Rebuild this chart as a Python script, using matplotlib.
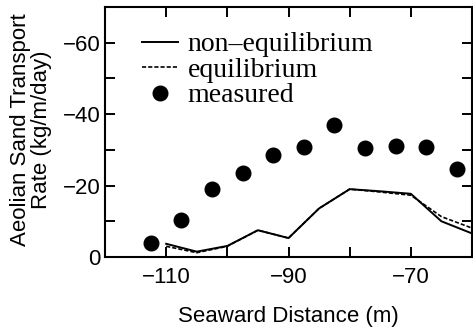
import matplotlib
matplotlib.use("Agg")
import matplotlib.pyplot as plt

# data (transport rate is negative = seaward)
dist_lines = [-110, -105, -100, -95, -90, -85, -80, -75, -70, -65, -60]
non_equilibrium = [-3.7, -1.5, -3.1, -7.5, -5.3, -13.6, -19.0, -18.4, -17.7, -10.0, -6.6]
equilibrium = [-3.0, -1.2, -3.0, -7.5, -5.3, -13.6, -19.0, -18.2, -17.3, -11.3, -8.1]

dist_measured = [-112.5, -107.5, -102.5, -97.5, -92.5, -87.5, -82.5, -77.5, -72.5, -67.5, -62.5]
measured = [-4.0, -10.5, -19.0, -23.6, -28.5, -30.7, -37.1, -30.6, -31.1, -30.7, -24.6]

xticks_major = [-110, -90, -70]
yticks_major = [-60, -40, -20, 0]

plt.rcParams['font.family'] = ['Liberation Sans', 'DejaVu Sans']

fig = plt.figure(figsize=(4.73, 3.29), dpi=100)
W, H = 473, 329
ax = fig.add_axes([105 / W, (H - 257) / H, (472 - 105) / W, (257 - 7) / H])

ax.plot(dist_lines, non_equilibrium, color='black', lw=1.4, ls='-', label='non\u2013equilibrium')
ax.plot(dist_lines, equilibrium, color='black', lw=1.2, ls=(0, (2.5, 1.2)), label='equilibrium')
ax.plot(dist_measured, measured, ls='none', marker='o', ms=10.5, color='black', label='measured')

ax.set_xlim(-120, -60)
ax.set_ylim(0, -70)

ax.set_xticks(xticks_major)
ax.set_xticks([-100, -80], minor=True)
ax.set_yticks(yticks_major)
ax.set_yticks([-50, -30, -10], minor=True)
ax.set_xticklabels([f"\u2212{abs(v)}" for v in xticks_major])
ax.set_yticklabels([f"\u2212{abs(v)}" if v else "0" for v in yticks_major])

ax.tick_params(which='both', direction='in', top=True, right=True, width=1.4, length=7)
ax.tick_params(axis='x', which='both', pad=7, labelsize=16)
ax.tick_params(axis='y', which='both', pad=3, labelsize=16)
for s in ax.spines.values():
    s.set_linewidth(1.5)

ax.set_xlabel("Seaward Distance (m)", fontsize=16, labelpad=13)
ax.set_ylabel("Aeolian Sand Transport\nRate (kg/m/day)", fontsize=16, linespacing=1.0)
ax.yaxis.set_label_coords(-0.145, 0.51)

leg = ax.legend(loc='upper left', bbox_to_anchor=(0.1, 0.9), frameon=False,
                prop={'family': 'Liberation Serif', 'size': 20},
                handlelength=1.3, handletextpad=0.35, labelspacing=0.0,
                borderpad=0, borderaxespad=0)

fig.savefig("out.png", dpi=100)
